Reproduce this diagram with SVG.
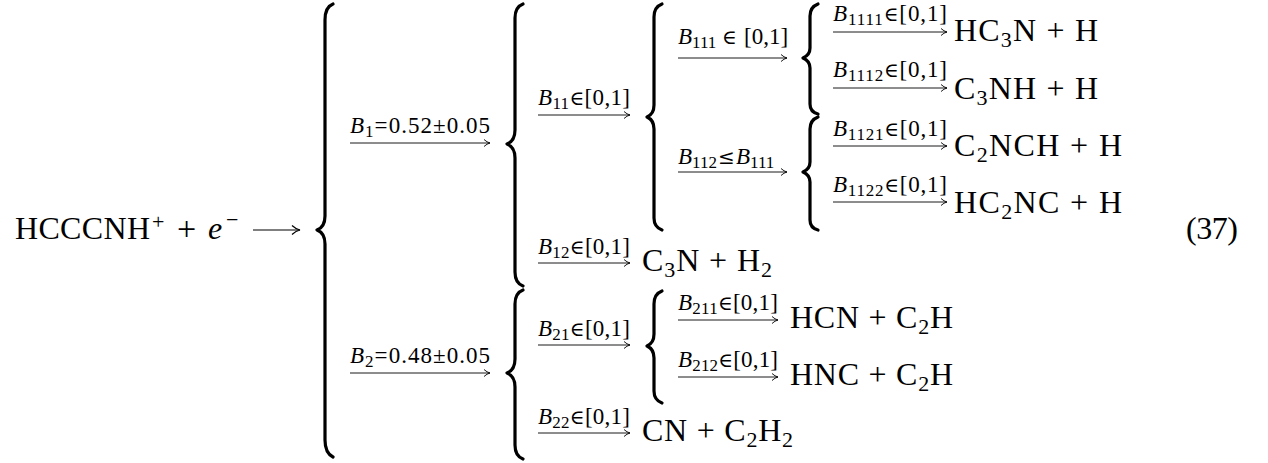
<svg xmlns="http://www.w3.org/2000/svg" width="1268" height="463" viewBox="0 0 1268 463">
<style>
text{font-family:"Liberation Serif","Times New Roman",serif;fill:#000}
.m{font-size:32px}
.op{font-size:34px}
.sup{font-size:22px}
.sb{font-size:22px}
.l{font-size:23px}
.ls{font-size:17px}
.it{font-style:italic}
.sym{font-family:"DejaVu Serif",serif;font-size:20px}
.br{fill:none;stroke:#000;stroke-width:3.2;stroke-linecap:round;stroke-linejoin:round}
.ar{fill:none;stroke:#000;stroke-width:0.9}
</style>
<defs>
<marker id="ah" markerUnits="userSpaceOnUse" markerWidth="10" markerHeight="10" refX="8" refY="5" orient="auto">
<path d="M2,1.5 Q5,4.3 8,5 Q5,5.7 2,8.5" fill="none" stroke="#000" stroke-width="0.9"/>
</marker>
<marker id="ahb" markerUnits="userSpaceOnUse" markerWidth="12" markerHeight="12" refX="10" refY="6" orient="auto">
<path d="M2,1.5 Q6,5.2 10,6 Q6,6.8 2,10.5" fill="none" stroke="#000" stroke-width="1.2"/>
</marker>
</defs>

<g id="reactant">
<text class="m" x="15" y="239" textLength="135" lengthAdjust="spacing">HCCCNH</text>
<text class="sup" x="152" y="229">+</text>
<text class="op" x="177" y="240">+</text>
<text class="m it" x="208" y="239">e</text>
<text class="sup" x="226" y="227">−</text>
</g>

<g id="braces">
<path class="br" d="M333,4 Q325,7 325,20 L325,216 Q325,227 317,230 Q325,233 325,244 L325,440 Q325,453 333,457"/>
<path class="br" d="M523,4 Q515,7 515,18 L515,130 Q515,141 507,144 Q515,147 515,158 L515,272 Q515,283 523,286"/>
<path class="br" d="M523,290 Q515,293 515,304 L515,359 Q515,370 507,373 Q515,376 515,387 L515,445 Q515,456 523,459"/>
<path class="br" d="M662,4 Q654,7 654,17 L654,105 Q654,114 647,117 Q654,120 654,129 L654,218 Q654,227 662,230"/>
<path class="br" d="M662,291 Q654,294 654,304 L654,334 Q654,343 647,346 Q654,349 654,358 L654,391 Q654,400 662,403"/>
<path class="br" d="M818,4 Q810,7 810,16 L810,48 Q810,55 803,58 Q810,61 810,68 L810,104 Q810,112 818,114"/>
<path class="br" d="M818,117 Q810,120 810,129 L810,162 Q810,169 803,172 Q810,175 810,182 L810,220 Q810,228 818,230"/>
</g>

<g id="connectors">
<line class="ar" x1="253" y1="230" x2="300" y2="230" marker-end="url(#ahb)" style="stroke-width:1.2"/>
<line class="ar" x1="350" y1="143" x2="490" y2="143" marker-end="url(#ah)"/>
<line class="ar" x1="350" y1="373" x2="490" y2="373" marker-end="url(#ah)"/>
<line class="ar" x1="538" y1="115" x2="630" y2="115" marker-end="url(#ah)"/>
<line class="ar" x1="538" y1="263" x2="630" y2="263" marker-end="url(#ah)"/>
<line class="ar" x1="538" y1="345" x2="630" y2="345" marker-end="url(#ah)"/>
<line class="ar" x1="538" y1="433" x2="630" y2="433" marker-end="url(#ah)"/>
<line class="ar" x1="678" y1="58" x2="787" y2="58" marker-end="url(#ah)"/>
<line class="ar" x1="678" y1="172" x2="787" y2="172" marker-end="url(#ah)"/>
<line class="ar" x1="833" y1="32" x2="947" y2="32" marker-end="url(#ah)"/>
<line class="ar" x1="833" y1="88" x2="947" y2="88" marker-end="url(#ah)"/>
<line class="ar" x1="833" y1="146" x2="947" y2="146" marker-end="url(#ah)"/>
<line class="ar" x1="833" y1="202" x2="947" y2="202" marker-end="url(#ah)"/>
<line class="ar" x1="678" y1="320" x2="778" y2="320" marker-end="url(#ah)"/>
<line class="ar" x1="678" y1="377" x2="778" y2="377" marker-end="url(#ah)"/>
</g>

<g id="labels">
<text class="l" x="350" y="133" textLength="140" lengthAdjust="spacing"><tspan class="it">B</tspan><tspan class="ls" dy="3.5">1</tspan><tspan dy="-3.5">=0.52±0.05</tspan></text>
<text class="l" x="350" y="363" textLength="140" lengthAdjust="spacing"><tspan class="it">B</tspan><tspan class="ls" dy="3.5">2</tspan><tspan dy="-3.5">=0.48±0.05</tspan></text>
<text class="l" x="538" y="105" textLength="92" lengthAdjust="spacing"><tspan class="it">B</tspan><tspan class="ls" dy="3.5">11</tspan><tspan class="sym" dy="-3.5">∈</tspan><tspan>[0,1]</tspan></text>
<text class="l" x="538" y="254" textLength="92" lengthAdjust="spacing"><tspan class="it">B</tspan><tspan class="ls" dy="3.5">12</tspan><tspan class="sym" dy="-3.5">∈</tspan><tspan>[0,1]</tspan></text>
<text class="l" x="538" y="336" textLength="92" lengthAdjust="spacing"><tspan class="it">B</tspan><tspan class="ls" dy="3.5">21</tspan><tspan class="sym" dy="-3.5">∈</tspan><tspan>[0,1]</tspan></text>
<text class="l" x="538" y="424" textLength="92" lengthAdjust="spacing"><tspan class="it">B</tspan><tspan class="ls" dy="3.5">22</tspan><tspan class="sym" dy="-3.5">∈</tspan><tspan>[0,1]</tspan></text>
<text class="l" x="678" y="44"><tspan class="it">B</tspan><tspan class="ls" dy="3.5">111</tspan><tspan class="sym" x="722" dy="-3.5">∈</tspan><tspan x="744">[0,1]</tspan></text>
<text class="l" x="678" y="164"><tspan class="it">B</tspan><tspan class="ls" dy="3.5">112</tspan><tspan class="sym" x="718" dy="-3.5">≤</tspan><tspan class="it" x="736">B</tspan><tspan class="ls" dy="3.5">111</tspan></text>
<text class="l" x="833" y="21" textLength="114" lengthAdjust="spacing"><tspan class="it">B</tspan><tspan class="ls" dy="3.5">1111</tspan><tspan class="sym" dy="-3.5">∈</tspan><tspan>[0,1]</tspan></text>
<text class="l" x="833" y="77" textLength="114" lengthAdjust="spacing"><tspan class="it">B</tspan><tspan class="ls" dy="3.5">1112</tspan><tspan class="sym" dy="-3.5">∈</tspan><tspan>[0,1]</tspan></text>
<text class="l" x="833" y="136" textLength="114" lengthAdjust="spacing"><tspan class="it">B</tspan><tspan class="ls" dy="3.5">1121</tspan><tspan class="sym" dy="-3.5">∈</tspan><tspan>[0,1]</tspan></text>
<text class="l" x="833" y="192" textLength="114" lengthAdjust="spacing"><tspan class="it">B</tspan><tspan class="ls" dy="3.5">1122</tspan><tspan class="sym" dy="-3.5">∈</tspan><tspan>[0,1]</tspan></text>
<text class="l" x="678" y="310" textLength="100" lengthAdjust="spacing"><tspan class="it">B</tspan><tspan class="ls" dy="3.5">211</tspan><tspan class="sym" dy="-3.5">∈</tspan><tspan>[0,1]</tspan></text>
<text class="l" x="678" y="367" textLength="100" lengthAdjust="spacing"><tspan class="it">B</tspan><tspan class="ls" dy="3.5">212</tspan><tspan class="sym" dy="-3.5">∈</tspan><tspan>[0,1]</tspan></text>
</g>

<g id="products">
<text class="m" x="954" y="41" textLength="144" lengthAdjust="spacing">HC<tspan class="sb" dy="6">3</tspan><tspan dy="-6">N + H</tspan></text>
<text class="m" x="954" y="99" textLength="144" lengthAdjust="spacing">C<tspan class="sb" dy="6">3</tspan><tspan dy="-6">NH + H</tspan></text>
<text class="m" x="954" y="156" textLength="168" lengthAdjust="spacing">C<tspan class="sb" dy="6">2</tspan><tspan dy="-6">NCH + H</tspan></text>
<text class="m" x="954" y="213" textLength="168" lengthAdjust="spacing">HC<tspan class="sb" dy="6">2</tspan><tspan dy="-6">NC + H</tspan></text>
<text class="m" x="642" y="271" textLength="130" lengthAdjust="spacing">C<tspan class="sb" dy="6">3</tspan><tspan dy="-6">N + H</tspan><tspan class="sb" dy="6">2</tspan></text>
<text class="m" x="790" y="328" textLength="163" lengthAdjust="spacing">HCN + C<tspan class="sb" dy="6">2</tspan><tspan dy="-6">H</tspan></text>
<text class="m" x="790" y="385" textLength="163" lengthAdjust="spacing">HNC + C<tspan class="sb" dy="6">2</tspan><tspan dy="-6">H</tspan></text>
<text class="m" x="642" y="441" textLength="151" lengthAdjust="spacing">CN + C<tspan class="sb" dy="6">2</tspan><tspan dy="-6">H</tspan><tspan class="sb" dy="6">2</tspan></text>
</g>

<g id="eqnum">
<text class="m" x="1186" y="239" textLength="52" lengthAdjust="spacing">(37)</text>
</g>
</svg>
